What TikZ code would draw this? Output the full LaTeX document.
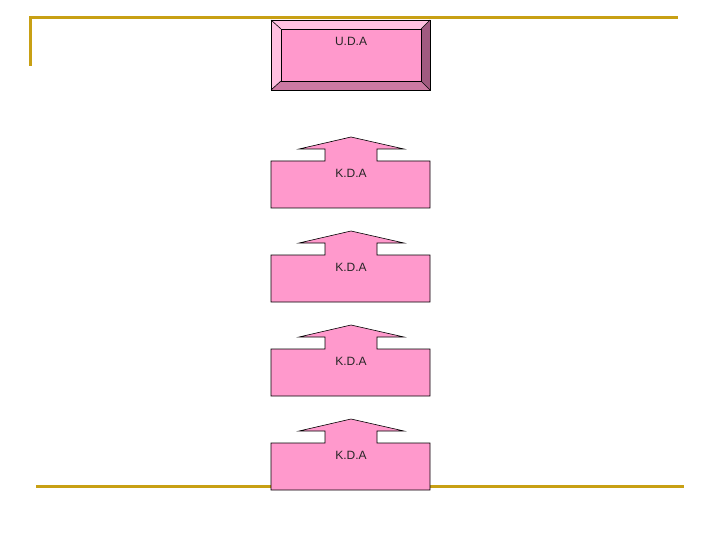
\documentclass[tikz,border=0pt]{standalone}
\usepackage{fontspec}
\setmainfont{Liberation Sans}
\definecolor{gold}{RGB}{200,160,20}
\definecolor{pinkfill}{RGB}{255,153,204}
\definecolor{bevlight}{RGB}{255,192,224}
\definecolor{bevdark}{RGB}{160,90,128}
\definecolor{bevmid}{RGB}{204,122,163}
\tikzset{
  rule/.style={draw=gold, line width=3pt},
  outline/.style={draw=black, line width=0.6pt, line join=miter},
  lbl/.style={font=\fontsize{12}{14}\selectfont, text=black!85, inner sep=0pt}
}
\begin{document}
\begin{tikzpicture}[x=1pt,y=-1pt]
\useasboundingbox (0,0) rectangle (720,540);
% gold rules
\draw[rule] (30,66) -- (30,18) -- (678,18);
\draw[rule] (36,486) -- (684,486);
% U.D.A bevel box
\fill[bevlight] (271,20) -- (430,20) -- (421,29) -- (281,29) -- cycle;
\fill[bevlight] (271,20) -- (281,29) -- (281,81) -- (271,90) -- cycle;
\fill[bevdark] (430,20) -- (430,90) -- (421,81) -- (421,29) -- cycle;
\fill[bevmid] (271,90) -- (281,81) -- (421,81) -- (430,90) -- cycle;
\draw[outline, fill=pinkfill] (281,29) rectangle (421,81);
\draw[outline] (271,20) rectangle (430,90);
\draw[outline] (271,20) -- (281,29) (430,20) -- (421,29) (271,90) -- (281,81) (430,90) -- (421,81);
\node[lbl] (uda) at (351,41) {U.D.A};
% K.D.A arrow boxes
\foreach \i/\dy in {1/0,2/94,3/188,4/282}{
  \begin{scope}[yshift=-\dy pt]
  \draw[outline, fill=pinkfill] (271,161) -- (325,161) -- (325,149) -- (299,149) -- (351,137)
     -- (404,149) -- (377,149) -- (377,161) -- (430,161) -- (430,208) -- (271,208) -- cycle;
  \node[lbl] (kda\i) at (351,173) {K.D.A};
  \end{scope}
}
\end{tikzpicture}
\end{document}
